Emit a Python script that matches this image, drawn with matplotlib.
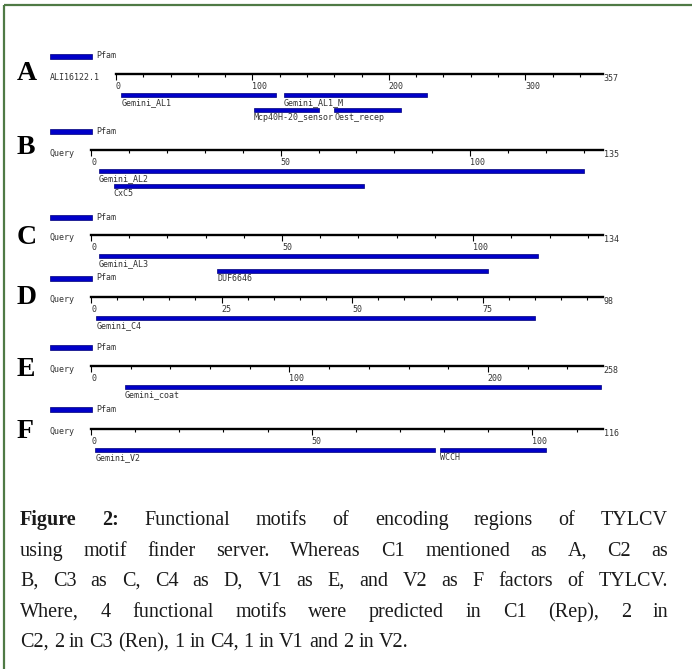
import numpy as np
import matplotlib
matplotlib.use("Agg")
import matplotlib.pyplot as plt
from matplotlib.patches import Rectangle

# sequences and their Pfam hits (positions in residues)
letters = ["A", "B", "C", "D", "E", "F"]
query_names = ["ALI16122.1", "Query", "Query", "Query", "Query", "Query"]
seq_lengths = [357, 135, 134, 98, 258, 116]
major_steps = [100, 50, 50, 25, 100, 50]
minor_steps = [20, 10, 10, 5, 20, 10]

domain_names = [
    ["Gemini_AL1", "Gemini_AL1_M", "Mcp40H-20_sensor", "Oest_recep"],
    ["Gemini_AL2", "CxC5"],
    ["Gemini_AL3", "DUF6646"],
    ["Gemini_C4"],
    ["Gemini_coat"],
    ["Gemini_V2", "WCCH"],
]
domain_starts = [[4, 123, 101, 160], [2, 6], [2, 33], [1], [17], [1, 79]]
domain_ends = [[117, 228, 149, 209], [130, 72], [117, 104], [85], [257], [78, 103]]
domain_rows = [[0, 0, 1, 1], [0, 1], [0, 1], [0], [0], [0, 0]]

caption_lines = [
    "Figure 2: Functional motifs of encoding regions of TYLCV",
    "using motif finder server. Whereas C1 mentioned as A, C2 as",
    "B, C3 as C, C4 as D, V1 as E, and V2 as F factors of TYLCV.",
    "Where, 4 functional motifs were predicted in C1 (Rep), 2 in",
    "C2, 2 in C3 (Ren), 1 in C4, 1 in V1 and 2 in V2.",
]

# layout in pixels
W, H = 692, 669
axis_y = [74, 150, 235, 297, 366, 429]
axis_x0 = [116, 91, 91, 91, 91, 91]
axis_x1 = 603
legend_y = [56, 131, 217, 278, 347, 409]
letter_y = [74, 147, 237, 298, 370, 432]
row_y = [21, 36]

BLUE = "#0000c8"
EDGE = "#00007a"
GREY = "#333333"
MONO = "DejaVu Sans Mono"
SERIF = "Liberation Serif"
CAP_SIZE = 14.5

fig = plt.figure(figsize=(W / 100, H / 100), dpi=100)
bg = fig.add_axes([0, 0, 1, 1])
bg.set_xlim(0, W)
bg.set_ylim(H, 0)
bg.axis("off")

# green frame
bg.plot([4, W], [5, 5], color="#4f7a45", lw=1.6, solid_capstyle="butt")
bg.plot([4, 4], [5, H], color="#4f7a45", lw=1.6, solid_capstyle="butt")

for i in range(len(letters)):
    L = seq_lengths[i]
    y0 = axis_y[i]
    x0 = axis_x0[i]

    # panel letter, legend swatch and sequence name
    bg.text(17, letter_y[i], letters[i], fontsize=20, family=SERIF,
            weight="bold", ha="left", va="center")
    bg.add_patch(Rectangle((50, legend_y[i] - 2.5), 42, 5,
                           facecolor=BLUE, edgecolor=EDGE, lw=0.5))
    bg.text(96, legend_y[i], "Pfam", fontsize=6, family=MONO, color=GREY,
            ha="left", va="center")
    bg.text(50, y0 + 3, query_names[i], fontsize=6, family=MONO, color=GREY,
            ha="left", va="center")

    top, bottom = y0 - 8, y0 + 48
    ax = fig.add_axes([x0 / W, 1 - bottom / H, (axis_x1 - x0) / W,
                       (bottom - top) / H])
    ax.set_xlim(0, L)
    ax.set_ylim(bottom - y0, top - y0)
    ax.patch.set_visible(False)
    for s in ["top", "left", "right"]:
        ax.spines[s].set_visible(False)
    ax.spines["bottom"].set_position(("data", 0))
    ax.spines["bottom"].set_linewidth(1.7)
    ax.set_yticks([])

    ax.set_xticks(np.arange(0, L + 1, major_steps[i]))
    ax.set_xticks(np.arange(0, L + 1, minor_steps[i]), minor=True)
    ax.tick_params(which="major", length=4, width=0.8, pad=2,
                   labelsize=6, labelcolor=GREY)
    ax.tick_params(which="minor", length=2.5, width=0.8)
    for lbl in ax.get_xticklabels():
        lbl.set_family(MONO)
        lbl.set_ha("left")
    ax.annotate(str(L), (L, 0), xytext=(0.5, -3), textcoords="offset points",
                fontsize=6, family=MONO, color=GREY, ha="left", va="center")

    for name, s, e, r in zip(domain_names[i], domain_starts[i],
                             domain_ends[i], domain_rows[i]):
        ax.barh(row_y[r], e - s, left=s, height=4.8, color=BLUE,
                edgecolor=EDGE, lw=0.5)
        ax.text(s, row_y[r] + 3, name, fontsize=6, family=MONO, color=GREY,
                ha="left", va="top")

# justified caption, words placed on a common baseline
renderer = fig.canvas.get_renderer()
cap_base = [525, 556, 586, 617, 647]
cap_x0, cap_x1 = 20, 668
for k, line in enumerate(caption_lines):
    words = line.split()
    texts = []
    for j, w in enumerate(words):
        bold = k == 0 and j < 2
        texts.append(bg.text(0, cap_base[k], w, fontsize=CAP_SIZE, family=SERIF,
                             weight="bold" if bold else "normal",
                             color="#1a1a1a", ha="left", va="baseline"))
    widths = [t.get_window_extent(renderer).width for t in texts]
    if k == len(caption_lines) - 1:
        gap = CAP_SIZE * 100 / 72 * 0.25
    else:
        gap = (cap_x1 - cap_x0 - sum(widths)) / (len(words) - 1)
    x = cap_x0
    for t, w in zip(texts, widths):
        t.set_x(x)
        x += w + gap

fig.savefig("out.png", dpi=100)
